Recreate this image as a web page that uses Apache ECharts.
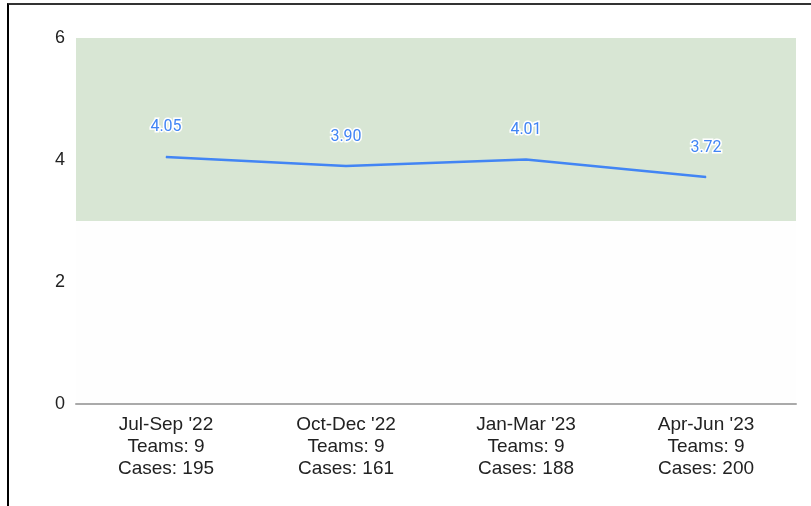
<!DOCTYPE html>
<html><head><meta charset="utf-8">
<script src="https://cdn.jsdelivr.net/npm/echarts@6/dist/echarts.min.js"></script>
<style>
html,body{margin:0;padding:0;background:#fff;}
#frame{position:absolute;left:7px;top:3px;width:804px;height:503px;border-left:2px solid #000;border-top:2px solid #333;box-sizing:border-box;}
#c{position:absolute;left:0;top:0;width:811px;height:506px;}
</style></head>
<body>
<div id="frame"></div>
<div id="c"></div>
<script>
var periods = ["Jul-Sep '22", "Oct-Dec '22", "Jan-Mar '23", "Apr-Jun '23"];
var teams = [9, 9, 9, 9];
var cases = [195, 161, 188, 200];
var scores = [4.05, 3.90, 4.01, 3.72];
var bandRange = [3, 6];

var chart = echarts.init(document.getElementById('c'));
chart.setOption({
  animation: false,
  grid: {left: 76, right: 15, top: 38, bottom: 102, show: true, backgroundColor: '#fefefe', borderWidth: 0},
  xAxis: {
    type: 'category',
    data: periods,
    boundaryGap: true,
    axisLine: {lineStyle: {color: '#aaaaaa', width: 2}},
    axisTick: {show: false},
    axisLabel: {
      margin: 10, color: '#222', fontFamily: 'Liberation Sans, Arial', fontSize: 19, lineHeight: 22,
      formatter: function (v, i) { return v + '\nTeams: ' + teams[i] + '\nCases: ' + cases[i]; }
    }
  },
  yAxis: {
    type: 'value', min: 0, max: 6, interval: 2,
    splitLine: {show: false}, axisLine: {show: false}, axisTick: {show: false},
    axisLabel: {color: '#222', fontFamily: 'Liberation Sans, Arial', fontSize: 18, margin: 11, padding: [3, 0, 0, 0]}
  },
  series: [{
    type: 'line',
    data: scores,
    symbol: 'circle', symbolSize: 1,
    itemStyle: {color: '#4285f4'},
    lineStyle: {color: '#4285f4', width: 2.5},
    label: {
      show: true, position: 'top', distance: 21,
      formatter: function (p) { return p.value.toFixed(2); },
      color: '#4285f4', fontFamily: 'Roboto, Arial', fontSize: 16,
      textBorderColor: '#fff', textBorderWidth: 3
    },
    markArea: {
      silent: true,
      itemStyle: {color: '#d8e6d4'},
      data: [[{yAxis: bandRange[0]}, {yAxis: bandRange[1]}]]
    }
  }]
});
</script>
</body></html>
